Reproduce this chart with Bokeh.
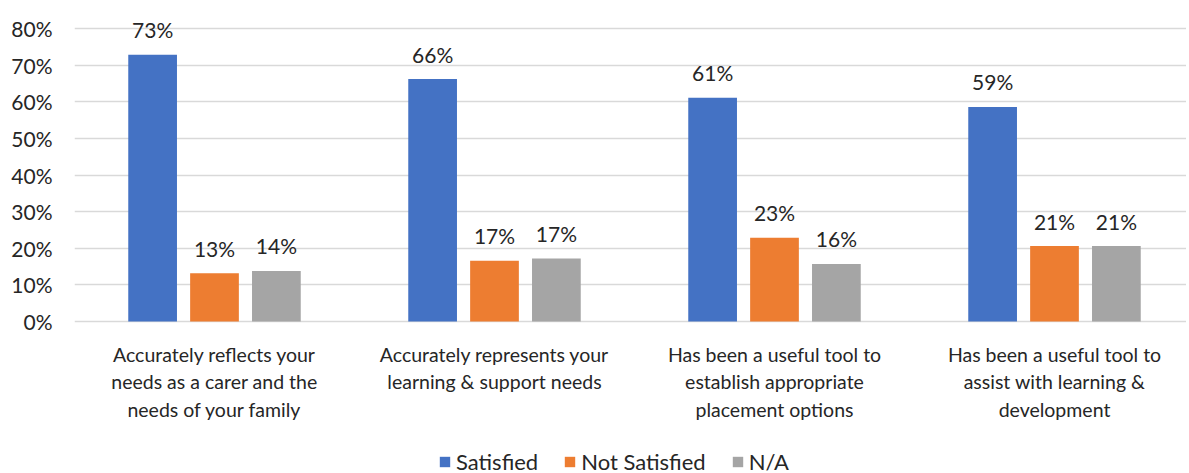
from bokeh.plotting import figure
from bokeh.models import ColumnDataSource, Range1d, FixedTicker, Legend, LegendItem
from bokeh.core.properties import value
from bokeh.embed import file_html
from bokeh.resources import INLINE

categories = [
    "Accurately reflects your\nneeds as a carer and the\nneeds of your family",
    "Accurately represents your\nlearning & support needs",
    "Has been a useful tool to\nestablish appropriate\nplacement options",
    "Has been a useful tool to\nassist with learning &\ndevelopment",
]
series = ["Satisfied", "Not Satisfied", "N/A"]
satisfied = [72.8, 66.2, 61.1, 58.6]
not_satisfied = [13.2, 16.6, 22.9, 20.6]
na = [13.8, 17.2, 15.7, 20.6]
colors = ["#4472C4", "#ED7D31", "#A5A5A5"]
y_ticks = [0, 10, 20, 30, 40, 50, 60, 70, 80]

FONT = "Lato"
TXT = "#262626"

centers = [i + 0.5 for i in range(len(categories))]

PX_PER_PCT = 3.6625
TOP_PAD = 14      # px above the 80% line (room for data labels)
BOTTOM_PAD = 159  # px below the 0% line (room for category labels and legend)

p = figure(frame_width=1112, frame_height=293 + TOP_PAD + BOTTOM_PAD,
           output_backend="svg", toolbar_location=None,
           x_range=Range1d(0, 1112 / 280),
           y_range=Range1d(-BOTTOM_PAD / PX_PER_PCT, 80 + TOP_PAD / PX_PER_PCT),
           min_border_left=74, min_border_top=TOP_PAD, min_border_right=0, min_border_bottom=0)
p.outline_line_color = None
p.background_fill_color = "white"
p.border_fill_color = "white"

bar_w = 0.174
offs = [-0.221, 0.0, 0.221]
renderers = []
for name, vals, col, off in zip(series, [satisfied, not_satisfied, na], colors, offs):
    src = ColumnDataSource(dict(x=[c + off for c in centers], top=vals,
                                lbl=["{:.0f}%".format(v) for v in vals]))
    r = p.vbar(x="x", top="top", bottom=0, width=bar_w, source=src, fill_color=col, line_color=None)
    renderers.append((name, r))
    p.text(x="x", y="top", text="lbl", source=src, text_align="center", text_baseline="middle",
           y_offset=-25, text_font=value(FONT), text_font_size="21px", text_color=TXT)

# axes
p.xaxis.fixed_location = 0
p.xaxis.ticker = FixedTicker(ticks=centers)
p.xaxis.major_label_overrides = {c: lab for c, lab in zip(centers, categories)}
p.xaxis.major_label_text_font = FONT
p.xaxis.major_label_text_font_size = "19.5px"
p.xaxis.major_label_text_color = TXT
p.xaxis.major_label_text_line_height = 1.2
p.xaxis.major_label_standoff = 15
p.xaxis.axis_line_color = None
p.xaxis.major_tick_line_color = None
p.xaxis.minor_tick_line_color = None

p.yaxis.ticker = FixedTicker(ticks=y_ticks)
p.yaxis.major_label_overrides = {t: "{}%".format(t) for t in y_ticks}
p.yaxis.major_label_text_font = FONT
p.yaxis.major_label_text_font_size = "21px"
p.yaxis.major_label_text_color = TXT
p.yaxis.major_label_standoff = 16
p.yaxis.axis_line_color = None
p.yaxis.major_tick_line_color = None
p.yaxis.minor_tick_line_color = None

p.xgrid.grid_line_color = None
p.ygrid.grid_line_color = "#D9D9D9"
p.ygrid.grid_line_width = 1.5

legend = Legend(items=[LegendItem(label=n, renderers=[r]) for n, r in renderers],
                orientation="horizontal", location=(364, 5))
legend.label_text_font = FONT
legend.label_text_font_size = "22px"
legend.label_text_color = TXT
legend.glyph_width = 13
legend.glyph_height = 13
legend.label_standoff = 5
legend.spacing = 25
legend.padding = 0
legend.margin = 0
legend.border_line_color = None
legend.background_fill_alpha = 0
p.add_layout(legend, "center")

open("out.html", "w").write(file_html(p, INLINE))
